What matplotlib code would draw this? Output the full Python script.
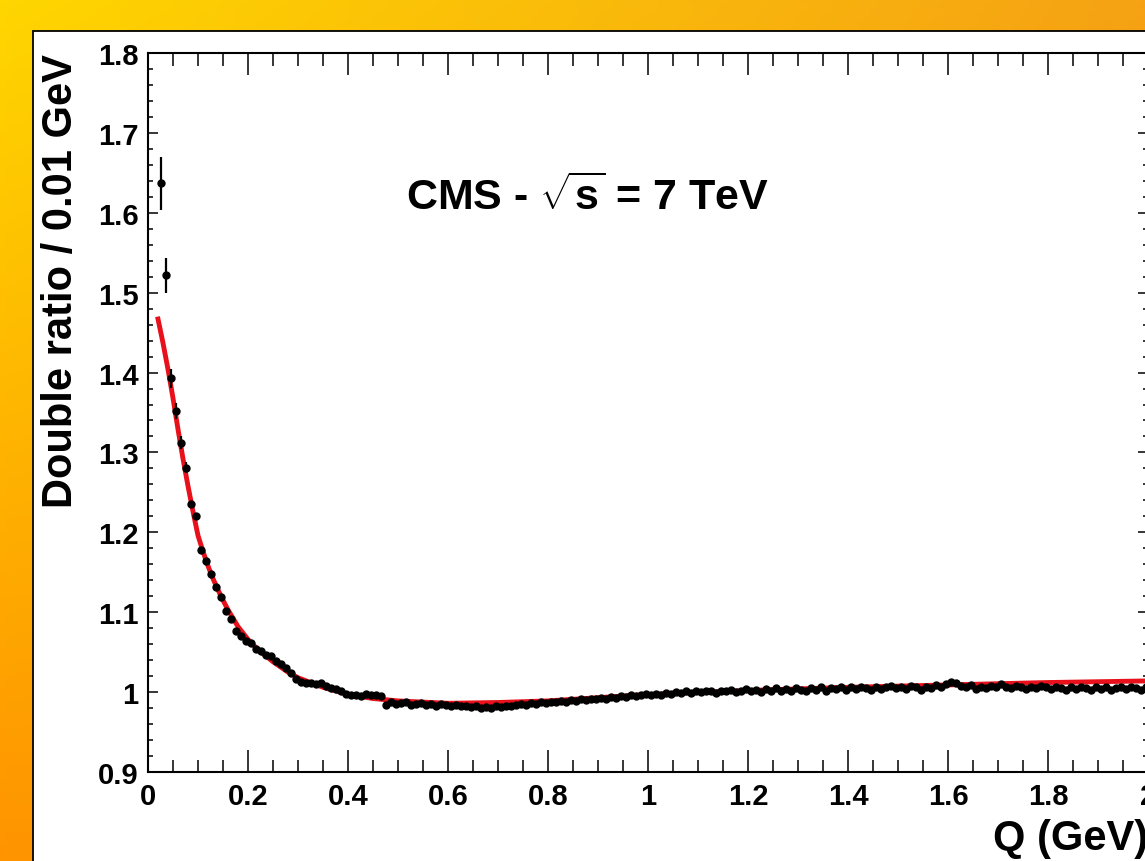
import numpy as np
import matplotlib.pyplot as plt
from matplotlib.patches import Rectangle
from matplotlib.ticker import MultipleLocator

plt.rcParams['font.family'] = ['Liberation Sans', 'DejaVu Sans']
plt.rcParams['font.weight'] = 'bold'
plt.rcParams['mathtext.fontset'] = 'custom'
plt.rcParams['mathtext.rm'] = 'Liberation Sans:bold'
plt.rcParams['mathtext.it'] = 'Liberation Sans:bold'
plt.rcParams['mathtext.bf'] = 'Liberation Sans:bold'

# double ratio per 0.01 GeV bin (bin centres start at 0.025 GeV)
ratio = [
    1.637, 1.522, 1.393, 1.352, 1.312, 1.281, 1.236, 1.221, 1.178, 1.164,
    1.148, 1.132, 1.119, 1.102, 1.091, 1.076, 1.070, 1.064, 1.061, 1.054,
    1.052, 1.047, 1.045, 1.039, 1.035, 1.030, 1.024, 1.017, 1.013, 1.011,
    1.012, 1.010, 1.011, 1.008, 1.005, 1.004, 1.001, 0.998, 0.996, 0.997,
    0.995, 0.998, 0.997, 0.996, 0.995, 0.984, 0.988, 0.985, 0.986, 0.988,
    0.984, 0.985, 0.986, 0.984, 0.985, 0.983, 0.985, 0.984, 0.983, 0.984,
    0.982, 0.983, 0.981, 0.982, 0.980, 0.981, 0.980, 0.982, 0.981, 0.983,
    0.982, 0.984, 0.985, 0.984, 0.986, 0.985, 0.987, 0.986, 0.988, 0.987,
    0.989, 0.988, 0.990, 0.989, 0.991, 0.990, 0.992, 0.991, 0.993, 0.992,
    0.994, 0.993, 0.995, 0.994, 0.996, 0.995, 0.997, 0.998, 0.996, 0.998,
    0.997, 0.999, 0.998, 1.000, 0.999, 1.001, 0.999, 1.001, 1.000, 1.002,
    1.001, 0.999, 1.002, 1.001, 1.003, 1.000, 1.002, 1.004, 1.001, 1.003,
    1.000, 1.004, 1.002, 1.005, 1.001, 1.004, 1.002, 1.005, 1.003, 1.001,
    1.005, 1.003, 1.006, 1.002, 1.005, 1.004, 1.007, 1.003, 1.006, 1.004,
    1.007, 1.005, 1.003, 1.007, 1.004, 1.006, 1.008, 1.005, 1.007, 1.004,
    1.008, 1.006, 1.003, 1.007, 1.005, 1.009, 1.006, 1.010, 1.013, 1.011,
    1.008, 1.006, 1.009, 1.004, 1.007, 1.005, 1.008, 1.006, 1.010, 1.007,
    1.005, 1.008, 1.006, 1.004, 1.007, 1.005, 1.008, 1.006, 1.004, 1.007,
    1.005, 1.003, 1.006, 1.004, 1.007, 1.005, 1.003, 1.006, 1.004, 1.006,
    1.003, 1.005, 1.007, 1.004, 1.006, 1.005, 1.003, 1.006,
]
q = np.round(0.025 + 0.01 * np.arange(len(ratio)), 3)

# visible error bars (first bins only)
err = [0.033, 0.022, 0.012, 0.010, 0.008, 0.007]

# fitted curve
fit_q = [0.02, 0.03, 0.04, 0.05, 0.06, 0.07, 0.08, 0.09, 0.10, 0.11, 0.12,
         0.13, 0.14, 0.15, 0.16, 0.18, 0.20, 0.22, 0.25, 0.28, 0.30, 0.35,
         0.40, 0.45, 0.50, 0.60, 0.70, 0.80, 0.90, 1.00, 1.20, 1.40, 1.60,
         1.80, 2.00]
fit_r = [1.467, 1.437, 1.404, 1.368, 1.329, 1.292, 1.258, 1.226, 1.196,
         1.176, 1.158, 1.142, 1.128, 1.115, 1.103, 1.082, 1.066, 1.053,
         1.038, 1.025, 1.018, 1.006, 0.997, 0.992, 0.989, 0.986, 0.987,
         0.989, 0.993, 0.997, 1.002, 1.006, 1.009, 1.012, 1.014]

W, H = 1145, 862
fig = plt.figure(figsize=(W / 100, H / 100), dpi=100)

# orange/yellow slide background
bg = fig.add_axes([0, 0, 1, 1], zorder=0)
bg.axis('off')
tl = np.array([255, 214, 0]) / 255
tr = np.array([245, 162, 20]) / 255
bl = np.array([255, 148, 0]) / 255
br = np.array([255, 140, 0]) / 255
u = np.linspace(0, 1, 200)[None, :, None]
v = np.linspace(0, 1, 200)[:, None, None]
grad = (1 - v) * ((1 - u) * tl + u * tr) + v * ((1 - u) * bl + u * br)
bg.imshow(grad, extent=[0, 1, 0, 1], aspect='auto', origin='upper')
bg.set_xlim(0, 1)
bg.set_ylim(0, 1)
bg.add_patch(Rectangle((33 / W, -0.05), 1.2, 1 - 32 / H + 0.05,
                       facecolor='white', edgecolor='black', lw=1.3,
                       transform=bg.transAxes, clip_on=False))

x0, x1 = 148, 1148
y0, y1 = 54, 773
ax = fig.add_axes([x0 / W, 1 - y1 / H, (x1 - x0) / W, (y1 - y0) / H], zorder=1)
ax.set_facecolor('none')

ax.plot(fit_q, fit_r, color='#e8101a', lw=3.5, zorder=2)
ax.plot(q, ratio, 'o', color='black', ms=5, zorder=3)
ax.errorbar(q[:len(err)], ratio[:len(err)], yerr=err, fmt='none',
            ecolor='black', elinewidth=1.6, zorder=3)

ax.set_xlim(0, 2)
ax.set_ylim(0.9, 1.8)
ax.xaxis.set_minor_locator(MultipleLocator(0.05))
ax.yaxis.set_minor_locator(MultipleLocator(0.02))
ax.set_xticks(np.round(np.arange(0, 2.01, 0.2), 1))
ax.set_xticklabels(['0', '0.2', '0.4', '0.6', '0.8', '1', '1.2', '1.4',
                    '1.6', '1.8', '2'])
ax.set_yticks(np.round(np.arange(0.9, 1.81, 0.1), 1))
ax.set_yticklabels(['0.9', '1', '1.1', '1.2', '1.3', '1.4', '1.5', '1.6',
                    '1.7', '1.8'])

ax.tick_params(axis='x', which='major', direction='in', length=16, width=1.1,
               top=True, labelsize=21, pad=7)
ax.tick_params(axis='x', which='minor', direction='in', length=9, width=1.1,
               top=True)
ax.tick_params(axis='y', which='major', direction='in', length=7, width=1.1,
               right=True, labelsize=21, pad=7)
ax.tick_params(axis='y', which='minor', direction='in', length=3.8, width=1.1,
               right=True)
for s in ax.spines.values():
    s.set_linewidth(1.5)

ax.set_xlabel('Q (GeV)', fontsize=30, fontweight='bold', loc='right',
              labelpad=6)
ax.set_ylabel('Double ratio / 0.01 GeV', fontsize=30, fontweight='bold',
              loc='top', labelpad=12)

ax.text(0.439, 0.80, r'CMS - $\sqrt{s}$ = 7 TeV', transform=ax.transAxes,
        fontsize=31, fontweight='bold', ha='center', va='center')

fig.savefig('out.png', dpi=100)
